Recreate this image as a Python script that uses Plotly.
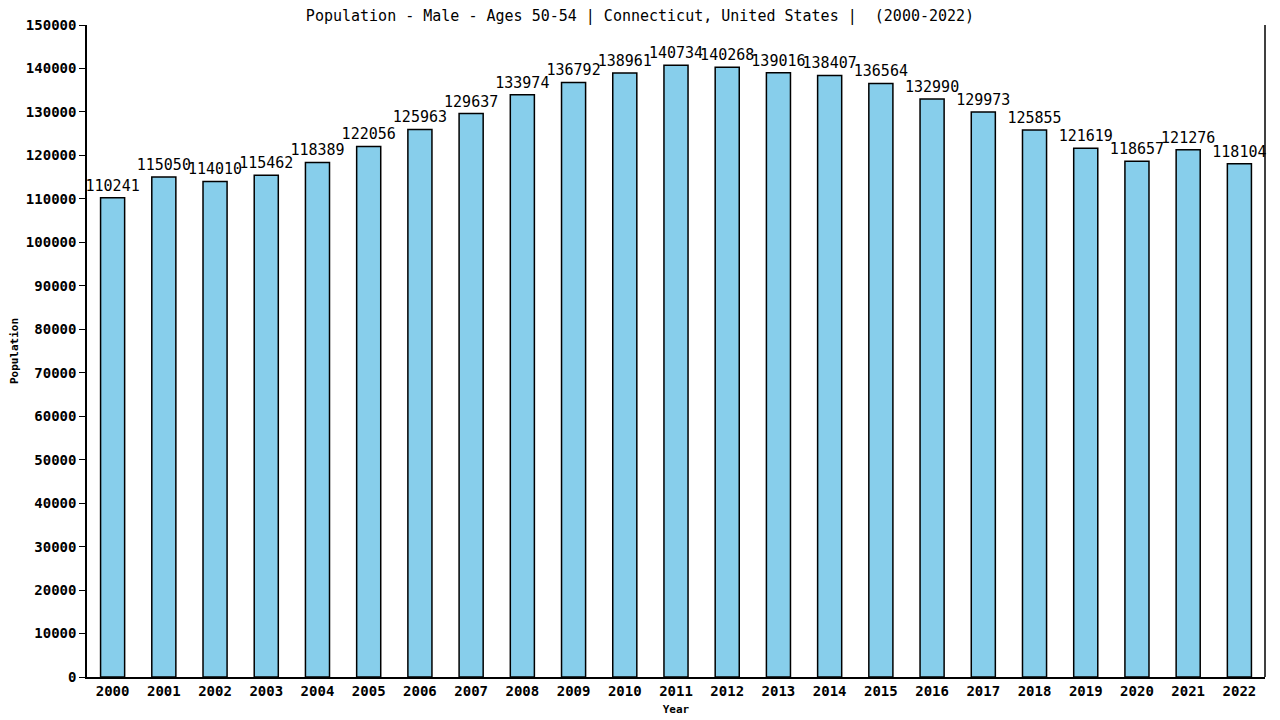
import plotly.graph_objects as go

years = [str(y) for y in range(2000, 2023)]
population = [110241, 115050, 114010, 115462, 118389, 122056, 125963, 129637, 133974,
              136792, 138961, 140734, 140268, 139016, 138407, 136564, 132990, 129973,
              125855, 121619, 118657, 121276, 118104]
title_text = "Population - Male - Ages 50-54 | Connecticut, United States |  (2000-2022)"

MONO = "DejaVu Sans Mono"
W, H = 1272, 712

fig = go.Figure()
fig.add_trace(go.Bar(
    x=years, y=population,
    marker=dict(color="#87CEEB", line=dict(color="black", width=1.5)),
    text=[str(v) for v in population],
    textposition="outside",
    textfont=dict(family=MONO, size=15, color="black"),
    constraintext="none",
    cliponaxis=False,
    hoverinfo="x+y",
))

fig.update_layout(
    width=W, height=H,
    margin=dict(l=79, r=15, t=17, b=43, autoexpand=False),
    paper_bgcolor="white", plot_bgcolor="white",
    bargap=0.53,
    showlegend=False,
    title=dict(text=title_text, x=(640 - 8) / W, xanchor="center", y=1 - 8 / H, yanchor="middle",
               font=dict(family=MONO, size=15, color="black")),
    font=dict(family=MONO, color="black"),
)
fig.update_yaxes(
    range=[0, 150000], dtick=10000, tickformat="d",
    showgrid=False, zeroline=False, automargin=False,
    showline=True, linecolor="black", linewidth=1.5,
    ticks="outside", ticklen=6, tickcolor="black",
    tickfont=dict(family=MONO, size=14, color="black", weight="bold"),
    title=dict(text="<b>Population</b>", font=dict(family=MONO, size=11, color="black"), standoff=8),
)
fig.update_xaxes(
    showgrid=False, showline=True, linecolor="black", linewidth=1.5, automargin=False,
    ticks="", tickfont=dict(family=MONO, size=14, color="black", weight="bold"),
    title=dict(text="<b>Year</b>", font=dict(family=MONO, size=11, color="black"), standoff=8),
)
fig.add_shape(type="line", xref="paper", yref="paper", x0=1, x1=1, y0=0, y1=1,
              line=dict(color="black", width=1.5))

fig.write_html("out.html")
